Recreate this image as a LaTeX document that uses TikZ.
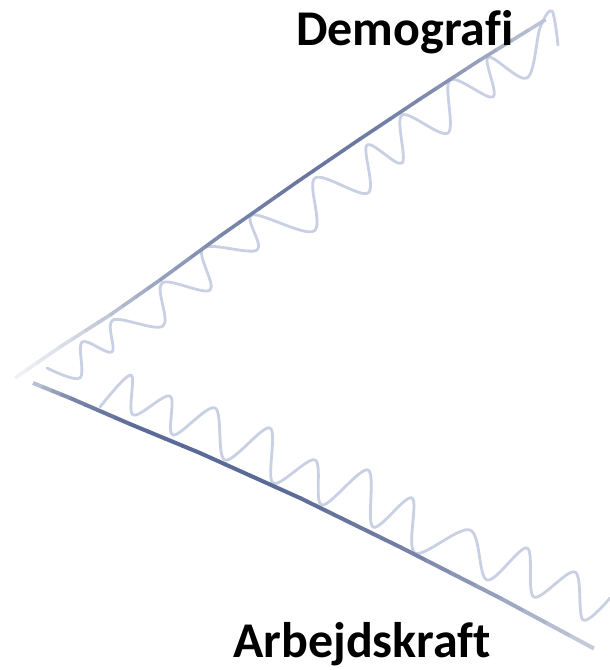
\documentclass[tikz,border=0pt]{standalone}
\usepackage{fontspec}
\usetikzlibrary{calc}
\setmainfont[Ligatures=CommonOff]{Carlito}
\definecolor{linec}{HTML}{4F5F8E}
\definecolor{wavec}{HTML}{C9D0E3}
\begin{document}
\begin{tikzpicture}[x=1pt,y=-1pt,
  mainline/.style={line width=3.6pt,line cap=round,line join=round},
  lowline/.style={line width=4pt,line cap=round,line join=round},
  wave/.style={draw=wavec,line width=2.8pt,line cap=round,line join=round},
  label/.style={anchor=base west,inner sep=0pt,font=\fontsize{50}{60}\selectfont\bfseries}]
\useasboundingbox (0,0) rectangle (610,670);
% upper line
\coordinate (u0) at (15,378);
\coordinate (u1) at (60,347);
\coordinate (u2) at (110,315);
\coordinate (u3) at (160,280);
\coordinate (u4) at (220,236);
\coordinate (u5) at (297,182);
\coordinate (u6) at (360,139);
\coordinate (u7) at (420,99);
\coordinate (u8) at (480,60);
\coordinate (u9) at (545,20);
% lower line
\coordinate (l0) at (33,383);
\coordinate (l1) at (70,398);
\coordinate (l2) at (130,424);
\coordinate (l3) at (200,453);
\coordinate (l4) at (300,498);
\coordinate (l5) at (400,547);
\coordinate (l6) at (500,598);
\coordinate (l7) at (593,648);
% waves
\draw[wave] plot[smooth,tension=0.55] coordinates {(47,368) (80,378) (82,342) (112,352) (113,320) (163,326) (162,283) (210,290) (203,248) (257,250) (252,215) (314,231) (315,178) (368,193) (367,145) (402,163) (402,115) (448,133) (450,80) (493,97) (488,57) (527,78) (540,28) (552,11) (558,45)};
\draw[wave] plot[smooth,tension=0.55] coordinates {(100,407) (131,375) (133,415) (170,396) (173,435) (215,408) (225,460) (270,428) (273,483) (315,460) (322,505) (368,470) (373,527) (412,498) (415,553) (470,530) (487,580) (527,548) (534,597) (575,572) (583,620) (610,598)};
% upper line with fading ends
\foreach \a/\b/\p/\q in {u0/u1/8/20, u1/u2/20/38, u2/u3/38/58, u3/u4/58/75, u4/u5/75/86, u5/u6/86/84, u6/u7/84/74, u7/u8/74/58, u8/u9/58/35}
  \foreach \t in {0,0.25,0.5,0.75}{
    \pgfmathtruncatemacro{\c}{\p+(\q-\p)*(\t+0.125)}
    \draw[mainline,line cap=butt,draw=linec!\c!white] ($(\a)!\t!(\b)$) -- ($(\a)!\t+0.26!(\b)$);
  }
% lower line with fading ends
\foreach \a/\b/\p/\q in {l0/l1/35/75, l1/l2/75/92, l2/l3/92/95, l3/l4/95/92, l4/l5/92/80, l5/l6/80/58, l6/l7/58/30}
  \foreach \t in {0,0.25,0.5,0.75}{
    \pgfmathtruncatemacro{\c}{\p+(\q-\p)*(\t+0.125)}
    \draw[lowline,line cap=butt,draw=linec!\c!white] ($(\a)!\t!(\b)$) -- ($(\a)!\t+0.26!(\b)$);
  }
% labels
\node[label] (demografi) at (296,45) {Demografi};
\node[label] (arbejdskraft) at (233,657) {Arbejdskraft};
\end{tikzpicture}
\end{document}
